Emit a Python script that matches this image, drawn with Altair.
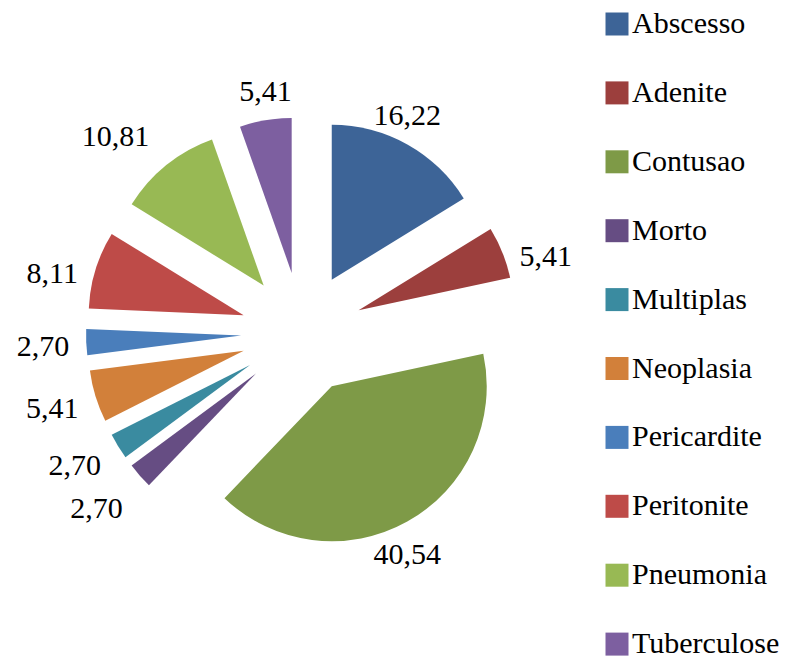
import altair as alt
import pandas as pd

categorias = ["Abscesso", "Adenite", "Contusao", "Morto", "Multiplas",
              "Neoplasia", "Pericardite", "Peritonite", "Pneumonia", "Tuberculose"]
valores = [16.22, 5.41, 40.54, 2.70, 2.70, 5.41, 2.70, 8.11, 10.81, 5.41]
cores = ["#3D6497", "#9C3F3D", "#7E9A47", "#664D83", "#3A8BA0",
         "#D2803A", "#4A7EBB", "#BE4B48", "#98B954", "#7D5FA0"]

FONTE = "Liberation Serif"

df = pd.DataFrame({"categoria": categorias, "valor": valores})

CX, CY, EXPL, R = 302, 333, 61, 155

base = alt.Chart(df).transform_joinaggregate(
    total="sum(valor)"
).transform_window(
    cum="sum(valor)", frame=[None, 0], sort=[alt.SortField("categoria")]
).transform_calculate(
    t1="2*PI*datum.cum/datum.total",
    t0="2*PI*(datum.cum-datum.valor)/datum.total",
).transform_calculate(
    mid="(datum.t0+datum.t1)/2",
    lbl="replace(format(datum.valor, '.2f'), '.', ',')",
).transform_calculate(
    cx=f"{CX} + {EXPL}*sin(datum.mid)",
    cy=f"{CY} - {EXPL}*cos(datum.mid)",
    hw="(length(datum.lbl)-0.5)*7.5",
).transform_calculate(
    hz="abs(sin(datum.mid)) > 0.6",
    vt="abs(cos(datum.mid)) > 0.6",
).transform_calculate(
    ox="datum.hz ? (sin(datum.mid) > 0 ? 1 : -1)*(datum.hw + 17) : 0",
    oy=("datum.vt ? (cos(datum.mid) > 0 ? -32 : 29) : "
        "(cos(datum.mid) < 0 ? -cos(datum.mid)*30 : 0)"),
).transform_calculate(
    lx=f"datum.cx + {R}*sin(datum.mid) + datum.ox",
    ly=f"datum.cy - {R}*cos(datum.mid) + datum.oy + 4",
)

arcs = base.mark_arc(outerRadius=R, innerRadius=0, strokeWidth=0).encode(
    x=alt.X("cx:Q", scale=None, axis=None),
    y=alt.Y("cy:Q", scale=None, axis=None),
    theta=alt.Theta("t0:Q", scale=None, stack=False),
    theta2=alt.Theta2("t1:Q"),
    color=alt.Color(
        "categoria:N",
        scale=alt.Scale(domain=categorias, range=cores),
        legend=alt.Legend(
            title=None,
            orient="none",
            legendX=602,
            legendY=9,
            padding=0,
            symbolType="square",
            symbolSize=529,
            symbolStrokeWidth=0,
            labelFont=FONTE,
            labelFontSize=30,
            labelColor="black",
            labelOffset=0,
            rowPadding=38.9,
            labelLimit=300,
        ),
    ),
)

labels = base.mark_text(
    font=FONTE, fontSize=30, color="black",
    align="center", baseline="middle"
).encode(
    x=alt.X("lx:Q", scale=None, axis=None),
    y=alt.Y("ly:Q", scale=None, axis=None),
    text="lbl:N",
)

chart = alt.layer(arcs, labels).properties(
    width=791, height=661, padding=0,
    autosize=alt.AutoSizeParams(type="none"),
    background="white",
).configure(font=FONTE).configure_view(stroke=None)

chart.save("out.html", embed_options={"renderer": "svg", "actions": False})
